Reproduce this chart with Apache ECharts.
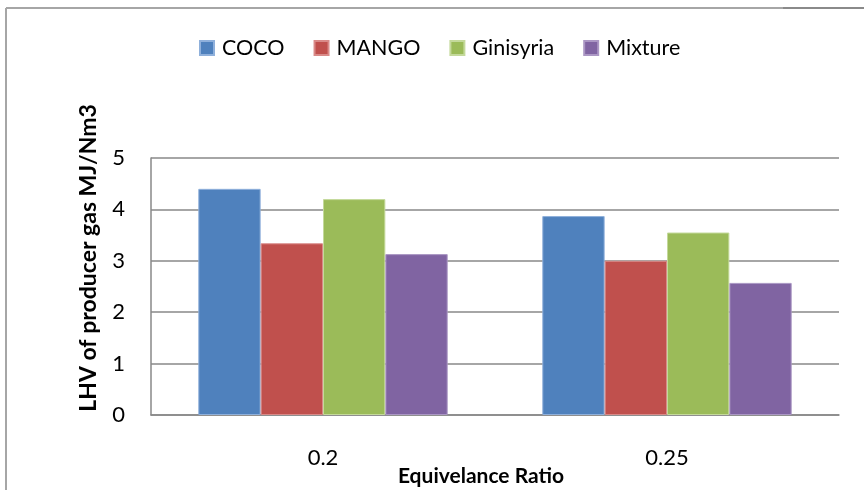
<!DOCTYPE html>
<html>
<head>
<meta charset="utf-8">
<script src="https://cdn.jsdelivr.net/npm/echarts@6/dist/echarts.min.js"></script>
<style>
html,body{margin:0;padding:0;background:#fff;}
#chart{width:864px;height:490px;}
</style>
</head>
<body>
<div id="chart"></div>
<script>
var categories = ['0.2', '0.25'];
var seriesNames = ['COCO', 'MANGO', 'Ginisyria', 'Mixture'];
var coco = [4.40, 3.87];
var mango = [3.34, 3.00];
var ginisyria = [4.20, 3.55];
var mixture = [3.13, 2.57];
var yTicks = [0, 1, 2, 3, 4, 5];
var colors = ['#4F81BD', '#C0504D', '#9BBB59', '#8064A2'];
var borders = ['#8fb0db', '#d98a88', '#c4d99b', '#ab97c4'];

var values = [coco, mango, ginisyria, mixture];
var FONT = 'Lato, "Open Sans", sans-serif';

var chart = echarts.init(document.getElementById('chart'), null, {renderer: 'canvas'});
chart.setOption({
  animation: false,
  backgroundColor: '#fff',
  color: colors,
  textStyle: {fontFamily: FONT},
  graphic: [
    {type: 'line', shape: {x1: 6, y1: 8, x2: 864, y2: 8}, style: {stroke: '#a6a6a6', lineWidth: 2}},
    {type: 'line', shape: {x1: 783, y1: 8, x2: 864, y2: 8}, style: {stroke: '#8a8a8a', lineWidth: 2}},
    {type: 'line', shape: {x1: 6, y1: 8, x2: 6, y2: 490}, style: {stroke: '#a6a6a6', lineWidth: 2}}
  ],
  legend: {
    data: seriesNames,
    left: 199,
    top: 37,
    padding: 0,
    itemWidth: 14,
    itemHeight: 14,
    itemGap: 29,
    icon: 'rect',
    textStyle: {fontFamily: FONT, fontSize: 21.5, color: '#000', padding: [0, 0, 0, 3]}
  },
  grid: {left: 151, right: 25, top: 158, bottom: 75, containLabel: false, outerBoundsMode: 'none'},
  xAxis: {
    type: 'category',
    data: categories,
    name: 'Equivelance Ratio',
    nameLocation: 'middle',
    nameGap: 51,
    nameMoveOverlap: false,
    nameTextStyle: {fontFamily: FONT, fontSize: 21, fontWeight: 'bold', color: '#000', padding: [0, 28, 0, 0]},
    axisLine: {lineStyle: {color: '#888', width: 1.5}},
    axisTick: {show: false},
    axisLabel: {fontFamily: FONT, fontSize: 22, color: '#000', margin: 32}
  },
  yAxis: {
    type: 'value',
    min: yTicks[0],
    max: yTicks[yTicks.length - 1],
    interval: 1,
    name: 'LHV of producer gas MJ/Nm3',
    nameLocation: 'middle',
    nameGap: 51,
    nameRotate: 90,
    nameMoveOverlap: false,
    nameTextStyle: {fontFamily: FONT, fontSize: 23, fontWeight: 'bold', color: '#000', padding: [0, 0, 0, 57]},
    axisLine: {show: true, lineStyle: {color: '#888', width: 1.5}},
    axisTick: {show: false},
    splitLine: {lineStyle: {color: '#888', width: 1.5}},
    axisLabel: {fontFamily: FONT, fontSize: 22, color: '#000', margin: 26}
  },
  series: seriesNames.map(function (n, i) {
    return {
      name: n,
      type: 'bar',
      data: values[i],
      barGap: '0%',
      barCategoryGap: '27.5%',
      itemStyle: {color: colors[i], borderColor: borders[i], borderWidth: 1}
    };
  })
});
</script>
</body>
</html>
